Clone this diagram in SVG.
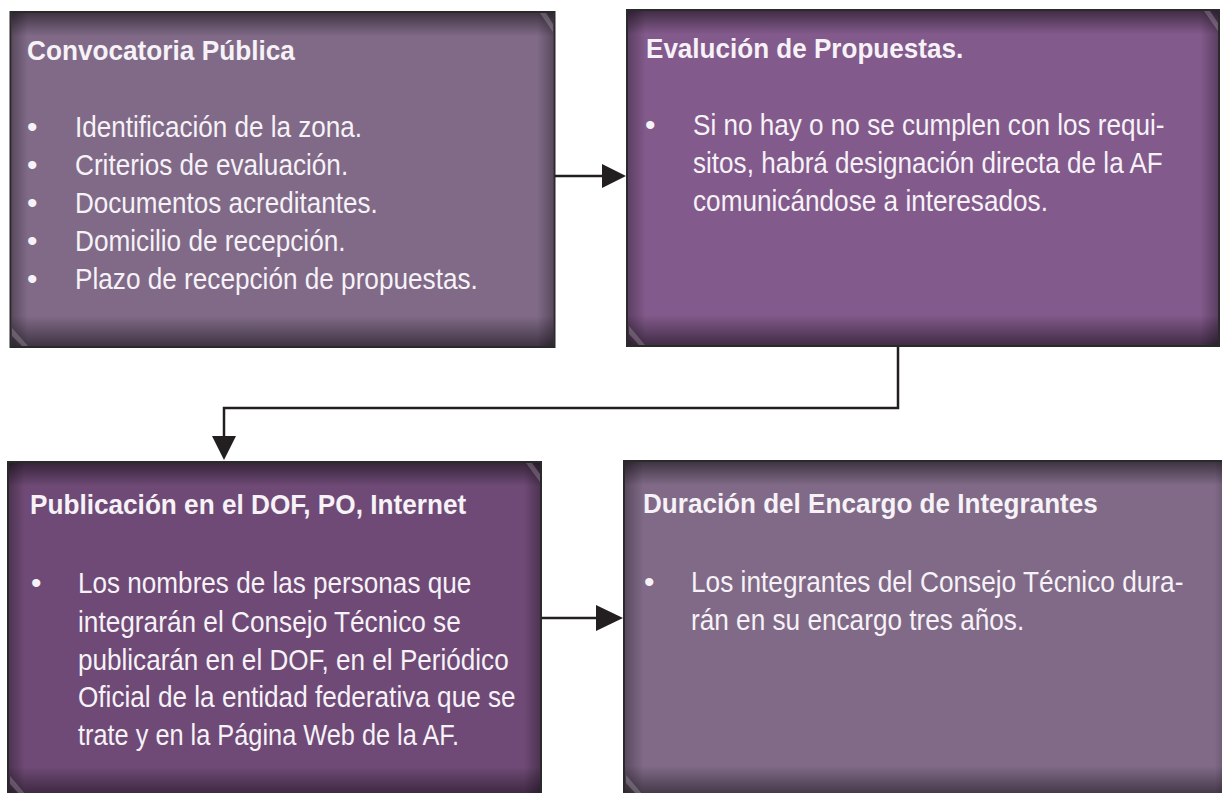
<svg xmlns="http://www.w3.org/2000/svg" width="1222" height="793" viewBox="0 0 1222 793">
<defs>
<linearGradient id="vshade" x1="0" y1="0" x2="0" y2="1">
<stop offset="0" stop-color="#000" stop-opacity="0.5"/>
<stop offset="0.07" stop-color="#000" stop-opacity="0"/>
<stop offset="0.91" stop-color="#000" stop-opacity="0"/>
<stop offset="1" stop-color="#000" stop-opacity="0.5"/>
</linearGradient>
<linearGradient id="hshade" x1="0" y1="0" x2="1" y2="0">
<stop offset="0" stop-color="#000" stop-opacity="0.3"/>
<stop offset="0.03" stop-color="#000" stop-opacity="0"/>
<stop offset="0.97" stop-color="#000" stop-opacity="0"/>
<stop offset="1" stop-color="#000" stop-opacity="0.3"/>
</linearGradient>
<style>
.box{stroke:#2a2a2a;stroke-width:2}
.shade{stroke:none}
.t{font-family:"Liberation Sans",Arial,sans-serif;font-weight:bold;font-size:28px;fill:#f6f2f7}
.b{font-family:"Liberation Sans",Arial,sans-serif;font-size:30px;fill:#f6f2f7}
.hl{fill:#fff;fill-opacity:0.2}
.con{fill:none;stroke:#231f20;stroke-width:2.5}
.head{fill:#231f20}
</style>
</defs>
<rect width="1222" height="793" fill="#fff"/>

<g id="node-convocatoria">
<rect class="box" x="10.5" y="12" width="544" height="335" fill="#806a87"/>
<rect class="shade" x="11.5" y="13" width="542" height="333" fill="url(#vshade)"/>
<rect class="shade" x="11.5" y="13" width="542" height="333" fill="url(#hshade)"/>
<polygon class="hl" points="540,13 546,13 553,24 553,32"/>
<polygon class="hl" points="12,328 12,336 22,346 28,346"/>
<text class="t" transform="translate(27 60) scale(0.93 1)" textLength="288" lengthAdjust="spacingAndGlyphs">Convocatoria Pública</text>
<text class="b" x="27" y="137">•</text>
<text class="b" transform="translate(75 137) scale(0.87 1)" textLength="330" lengthAdjust="spacingAndGlyphs">Identificación de la zona.</text>
<text class="b" x="27" y="175">•</text>
<text class="b" transform="translate(75 175) scale(0.87 1)" textLength="314" lengthAdjust="spacingAndGlyphs">Criterios de evaluación.</text>
<text class="b" x="27" y="213">•</text>
<text class="b" transform="translate(75 213) scale(0.87 1)" textLength="348" lengthAdjust="spacingAndGlyphs">Documentos acreditantes.</text>
<text class="b" x="27" y="251">•</text>
<text class="b" transform="translate(75 251) scale(0.87 1)" textLength="311" lengthAdjust="spacingAndGlyphs">Domicilio de recepción.</text>
<text class="b" x="27" y="289">•</text>
<text class="b" transform="translate(75 289) scale(0.87 1)" textLength="463" lengthAdjust="spacingAndGlyphs">Plazo de recepción de propuestas.</text>
</g>

<g id="node-evaluacion">
<rect class="box" x="627" y="10" width="592" height="336" fill="#835a8c"/>
<rect class="shade" x="628" y="11" width="590" height="334" fill="url(#vshade)"/>
<rect class="shade" x="628" y="11" width="590" height="334" fill="url(#hshade)"/>
<polygon class="hl" points="1204,11 1210,11 1218,23 1218,31"/>
<polygon class="hl" points="629,326 629,334 639,345 645,345"/>
<text class="t" transform="translate(646 58) scale(0.93 1)" textLength="341" lengthAdjust="spacingAndGlyphs">Evalución de Propuestas.</text>
<text class="b" x="645" y="135">•</text>
<text class="b" transform="translate(693 135) scale(0.87 1)" textLength="542" lengthAdjust="spacingAndGlyphs">Si no hay o no se cumplen con los requi-</text>
<text class="b" transform="translate(693 173) scale(0.87 1)" textLength="540" lengthAdjust="spacingAndGlyphs">sitos, habrá designación directa de la AF</text>
<text class="b" transform="translate(693 211) scale(0.87 1)" textLength="408" lengthAdjust="spacingAndGlyphs">comunicándose a interesados.</text>
</g>

<g id="node-publicacion">
<rect class="box" x="8" y="462" width="533" height="336" fill="#6f4a76"/>
<rect class="shade" x="9" y="463" width="531" height="334" fill="url(#vshade)"/>
<rect class="shade" x="9" y="463" width="531" height="334" fill="url(#hshade)"/>
<polygon class="hl" points="526,463 532,463 540,474 540,482"/>
<polygon class="hl" points="10,776 10,784 21,796 27,796"/>
<text class="t" transform="translate(30 514) scale(0.93 1)" textLength="469" lengthAdjust="spacingAndGlyphs">Publicación en el DOF, PO, Internet</text>
<text class="b" x="31" y="593">•</text>
<text class="b" transform="translate(78 593) scale(0.87 1)" textLength="452" lengthAdjust="spacingAndGlyphs">Los nombres de las personas que</text>
<text class="b" transform="translate(78 632) scale(0.87 1)" textLength="440" lengthAdjust="spacingAndGlyphs">integrarán el Consejo Técnico se</text>
<text class="b" transform="translate(78 670) scale(0.87 1)" textLength="495" lengthAdjust="spacingAndGlyphs">publicarán en el DOF, en el Periódico</text>
<text class="b" transform="translate(78 707) scale(0.87 1)" textLength="503" lengthAdjust="spacingAndGlyphs">Oficial de la entidad federativa que se</text>
<text class="b" transform="translate(78 745) scale(0.87 1)" textLength="438" lengthAdjust="spacingAndGlyphs">trate y en la Página Web de la AF.</text>
</g>

<g id="node-duracion">
<rect class="box" x="624" y="461" width="610" height="336" fill="#806a87"/>
<rect class="shade" x="625" y="462" width="608" height="334" fill="url(#vshade)"/>
<rect class="shade" x="625" y="462" width="608" height="334" fill="url(#hshade)"/>
<polygon class="hl" points="626,775 626,783 637,795 643,795"/>
<text class="t" transform="translate(643 513) scale(0.93 1)" textLength="489" lengthAdjust="spacingAndGlyphs">Duración del Encargo de Integrantes</text>
<text class="b" x="644" y="592">•</text>
<text class="b" transform="translate(691 592) scale(0.87 1)" textLength="566" lengthAdjust="spacingAndGlyphs">Los integrantes del Consejo Técnico dura-</text>
<text class="b" transform="translate(691 630) scale(0.87 1)" textLength="383" lengthAdjust="spacingAndGlyphs">rán en su encargo tres años.</text>
</g>

<g id="connectors">
<line class="con" x1="555" y1="176" x2="604" y2="176"/>
<polygon class="head" points="602,164 602,188 626,176"/>
<polyline class="con" points="898,347 898,408 224,408 224,438"/>
<polygon class="head" points="212,436 236,436 224,460"/>
<line class="con" x1="542" y1="618" x2="598" y2="618"/>
<polygon class="head" points="596,605 596,631 623,618"/>
</g>
</svg>
